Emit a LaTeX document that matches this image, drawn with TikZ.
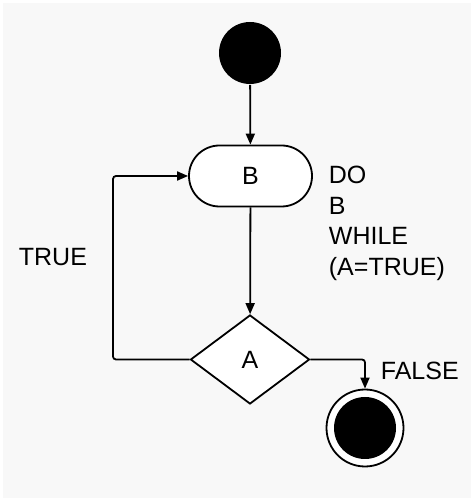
\documentclass[tikz,border=0pt]{standalone}
\usepackage{fontspec}
\setmainfont{Liberation Sans}
\usetikzlibrary{arrows.meta}
\usetikzlibrary{shapes.geometric}
\usetikzlibrary{shapes.misc}
\definecolor{bggray}{RGB}{248,248,248}

\begin{document}
\begin{tikzpicture}[x=1pt,y=1pt,line width=1.8pt,
    flow/.style={-{Triangle[length=11pt,width=9pt]},rounded corners=3pt},
    lbl/.style={font=\fontsize{25}{30.7}\selectfont,inner sep=0pt}]
\useasboundingbox (0,0) rectangle (474,501);
\fill[white] (0,0) rectangle (474,501);
\fill[bggray] (3,3) rectangle (471,498);
% states
\node[circle,fill=black,minimum size=62pt,inner sep=0pt] (start) at (250,448) {};
\node[rounded rectangle,draw,fill=white,minimum width=123pt,minimum height=61pt,lbl] (B) at (250.5,325) {B};
\node[diamond,draw,fill=white,minimum width=119pt,minimum height=89pt,inner sep=0pt,lbl] (A) at (250,141.5) {A};
\node[circle,draw,fill=white,minimum size=77pt,inner sep=0pt] (endout) at (365,73) {};
\node[circle,fill=black,minimum size=62pt,inner sep=0pt] (endin) at (endout) {};
\coordinate (turn) at (113,141.5);
% arrows
\draw[flow] (start) -- (B);
\draw[flow] (B) -- (A);
\draw[flow] (A.west) -- (turn) |- (B.west);
\draw[flow] (A.east) -| (endout.north);
% labels
\node[lbl,align=left,anchor=north west] (code) at (328,336) {DO\\B\\WHILE\\(A=TRUE)};
\node[lbl,anchor=west] (true) at (18,244) {TRUE};
\node[lbl,anchor=west] (false) at (380,130) {FALSE};
\end{tikzpicture}
\end{document}
